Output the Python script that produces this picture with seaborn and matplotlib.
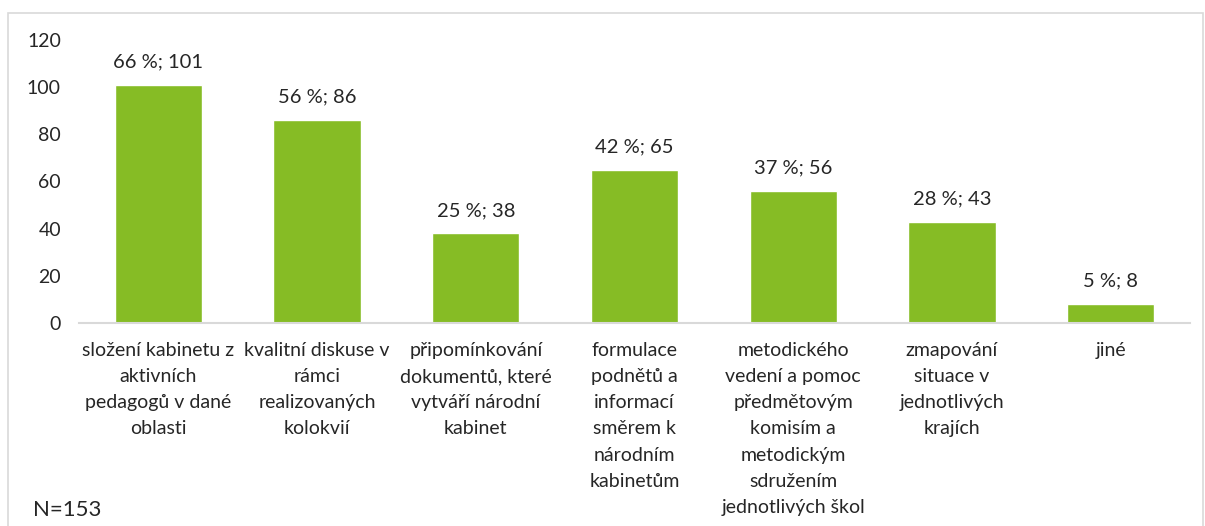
import matplotlib
matplotlib.use("Agg")
import matplotlib.pyplot as plt
import seaborn as sns
import pandas as pd
from matplotlib.patches import Rectangle

categories = [
    "složení kabinetu z\naktivních\npedagogů v dané\noblasti",
    "kvalitní diskuse v\nrámci\nrealizovaných\nkolokvií",
    "připomínkování\ndokumentů, které\nvytváří národní\nkabinet",
    "formulace\npodnětů a\ninformací\nsměrem k\nnárodním\nkabinetům",
    "metodického\nvedení a pomoc\npředmětovým\nkomisím a\nmetodickým\nsdružením\njednotlivých škol",
    "zmapování\nsituace v\njednotlivých\nkrajích",
    "jiné",
]
counts = [101, 86, 38, 65, 56, 43, 8]
percents = [66, 56, 25, 42, 37, 28, 5]

sns.set_style("white")
plt.rcParams["font.family"] = ["Lato", "DejaVu Sans"]
text_col = "#262626"

df = pd.DataFrame({"cat": categories, "n": counts})

fig = plt.figure(figsize=(12.05, 5.26), dpi=100)
fig.patches.append(Rectangle((8 / 1205, -0.05), 1195 / 1205, 1 - 13 / 526 + 0.05,
                             transform=fig.transFigure, fill=False,
                             edgecolor="#D9D9D9", linewidth=1.2))
ax = fig.add_axes([79 / 1205, 1 - 323 / 526, 1111 / 1205, 283 / 526])

sns.barplot(data=df, x="cat", y="n", color="#86BC25", saturation=1,
            width=0.55, ax=ax)

for i, (n, p) in enumerate(zip(counts, percents)):
    ax.annotate(f"{p} %; {n}", (i, n), xytext=(0, 16.5), textcoords="offset points",
                ha="center", va="center", fontsize=14.5, color=text_col)

ax.set_ylim(0, 120)
ax.set_yticks(range(0, 121, 20))
ax.set_xlim(-0.5, len(categories) - 0.5)
ax.set_xlabel("")
ax.set_ylabel("")
ax.tick_params(axis="y", length=0, pad=13, labelsize=14, colors=text_col)
ax.tick_params(axis="x", length=0, pad=13.5, labelsize=14, colors=text_col)
for lbl in ax.get_xticklabels():
    lbl.set_linespacing(1.66)
    lbl.set_multialignment("center")
for s in ["top", "right", "left"]:
    ax.spines[s].set_visible(False)
ax.spines["bottom"].set_color("#D9D9D9")
ax.spines["bottom"].set_linewidth(1.5)

fig.text(33 / 1205, 1 - 510 / 526, "N=153", fontsize=16, color=text_col,
         ha="left", va="center")

fig.savefig("out.png", dpi=100)
